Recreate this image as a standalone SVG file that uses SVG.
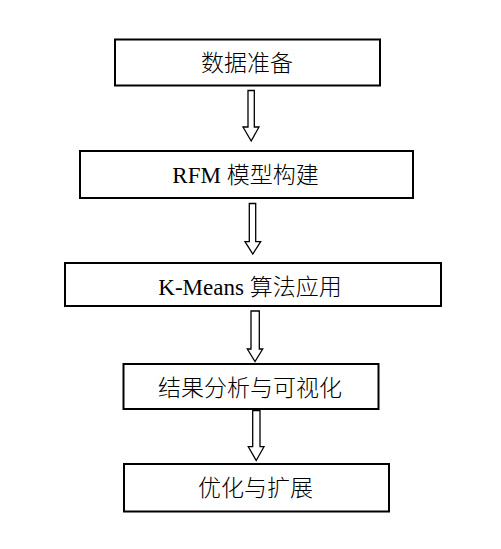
<svg xmlns="http://www.w3.org/2000/svg" width="501" height="549" viewBox="0 0 501 549">
<style>
.box{fill:#fff;stroke:#000;stroke-width:2}
.arr{fill:#fff;stroke:#000;stroke-width:1.3;stroke-linejoin:miter}
.lbl{font-family:"Noto Sans CJK SC","Liberation Serif",sans-serif;font-size:23px;font-weight:300;fill:#000;text-anchor:middle}
.lat{font-family:"Liberation Serif",serif;font-size:23px;font-weight:400}
</style>
<rect width="501" height="549" fill="#fff"/>
<g id="connectors">
<polygon class="arr" points="248,90.5 254.3,90.5 254.3,127 259,127 251.2,141 243,127 248,127"/>
<polygon class="arr" points="249.3,203.5 255.7,203.5 255.7,241.7 260.7,241.7 252.8,254 245,241.7 249.3,241.7"/>
<polygon class="arr" points="251,311 259.3,311 259.3,349 262.7,349 255,361.5 247.3,349 251,349"/>
<polygon class="arr" points="252.7,410.5 260,410.5 260,446.7 264,446.7 256.2,460.5 248.3,446.7 252.7,446.7"/>
</g>
<g id="n1">
<rect class="box" x="115" y="39.5" width="265" height="46"/>
<text class="lbl" x="247" y="71">数据准备</text>
</g>
<g id="n2">
<rect class="box" x="80" y="151" width="333" height="47"/>
<text class="lbl" x="245.5" y="183"><tspan class="lat">RFM </tspan>模型构建</text>
</g>
<g id="n3">
<rect class="box" x="65" y="263" width="376" height="43"/>
<text class="lbl" x="250" y="294.5"><tspan class="lat">K-Means </tspan>算法应用</text>
</g>
<g id="n4">
<rect class="box" x="123.5" y="364" width="255" height="45"/>
<text class="lbl" x="250" y="395.5">结果分析与可视化</text>
</g>
<g id="n5">
<rect class="box" x="124" y="464" width="265" height="47.5"/>
<text class="lbl" x="255.5" y="496">优化与扩展</text>
</g>
</svg>
